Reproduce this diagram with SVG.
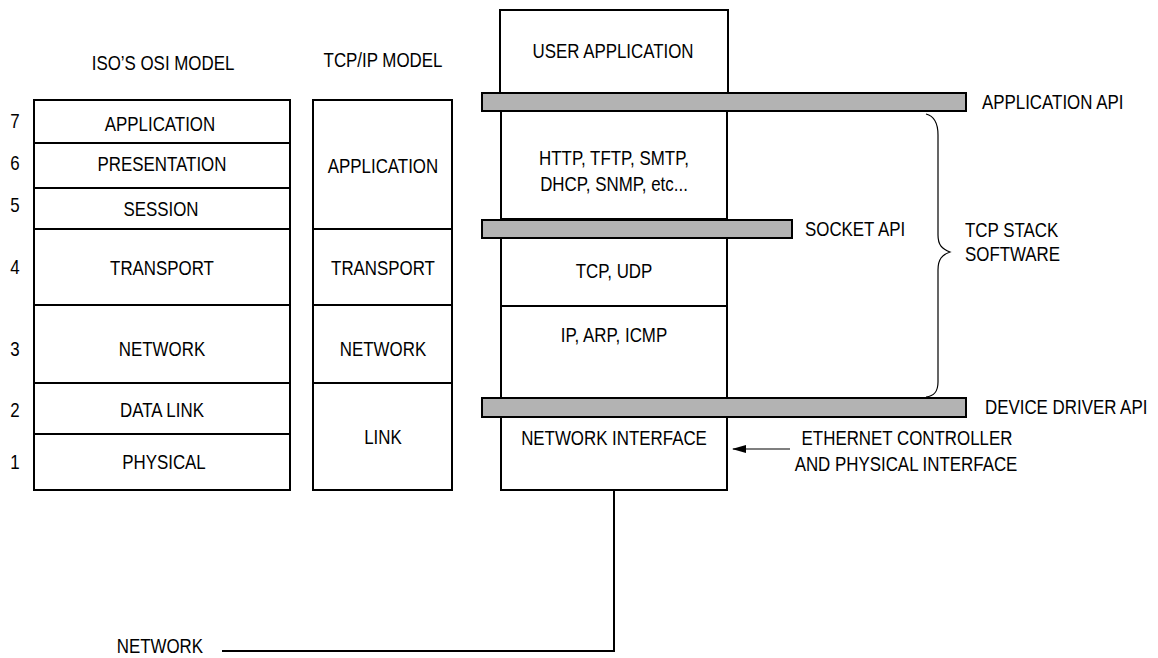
<svg xmlns="http://www.w3.org/2000/svg" width="1158" height="658" viewBox="0 0 1158 658">
<defs>
<style>
text{font-family:"Liberation Sans",Arial,sans-serif;font-size:20px;fill:#000}
.c{text-anchor:middle}
.e{text-anchor:end}
.box{fill:#fff;stroke:#000;stroke-width:2}
.bar{fill:#b3b3b3;stroke:#000;stroke-width:2}
.ln{fill:none;stroke:#000;stroke-width:2}
.thin{fill:none;stroke:#000;stroke-width:1.2}
</style>
<marker id="ah" markerWidth="14" markerHeight="10" refX="13" refY="5" orient="auto" markerUnits="userSpaceOnUse">
<path d="M0,1 L14,5 L0,9 Z" fill="#000"/>
</marker>
</defs>
<rect width="1158" height="658" fill="#fff"/>

<g id="headers">
<text class="c" transform="translate(163,70) scale(.845,1)">ISO’S OSI MODEL</text>
<text class="c" transform="translate(383,67) scale(.845,1)">TCP/IP MODEL</text>
</g>

<g id="osi">
<rect class="box" x="34" y="100" width="256" height="390"/>
<line class="ln" x1="34" y1="143" x2="290" y2="143"/>
<line class="ln" x1="34" y1="188" x2="290" y2="188"/>
<line class="ln" x1="34" y1="229" x2="290" y2="229"/>
<line class="ln" x1="34" y1="305" x2="290" y2="305"/>
<line class="ln" x1="34" y1="383" x2="290" y2="383"/>
<line class="ln" x1="34" y1="434" x2="290" y2="434"/>
<text class="c" transform="translate(160,131) scale(.845,1)">APPLICATION</text>
<text class="c" transform="translate(162,171) scale(.845,1)">PRESENTATION</text>
<text class="c" transform="translate(161,216) scale(.845,1)">SESSION</text>
<text class="c" transform="translate(162,275) scale(.845,1)">TRANSPORT</text>
<text class="c" transform="translate(162,356) scale(.845,1)">NETWORK</text>
<text class="c" transform="translate(162,417) scale(.845,1)">DATA LINK</text>
<text class="c" transform="translate(164,469) scale(.845,1)">PHYSICAL</text>
<text class="c" transform="translate(15,128) scale(.845,1)">7</text>
<text class="c" transform="translate(15,170) scale(.845,1)">6</text>
<text class="c" transform="translate(15,212) scale(.845,1)">5</text>
<text class="c" transform="translate(15,274) scale(.845,1)">4</text>
<text class="c" transform="translate(15,356) scale(.845,1)">3</text>
<text class="c" transform="translate(15,417) scale(.845,1)">2</text>
<text class="c" transform="translate(15,469) scale(.845,1)">1</text>
</g>

<g id="tcpip">
<rect class="box" x="313" y="100" width="139" height="390"/>
<line class="ln" x1="313" y1="229" x2="452" y2="229"/>
<line class="ln" x1="313" y1="305" x2="452" y2="305"/>
<line class="ln" x1="313" y1="383" x2="452" y2="383"/>
<text class="c" transform="translate(383,173) scale(.845,1)">APPLICATION</text>
<text class="c" transform="translate(383,275) scale(.845,1)">TRANSPORT</text>
<text class="c" transform="translate(383,356) scale(.845,1)">NETWORK</text>
<text class="c" transform="translate(383,444) scale(.845,1)">LINK</text>
</g>

<g id="user-application">
<rect class="box" x="500" y="10" width="228" height="83"/>
<text class="c" transform="translate(613,58) scale(.845,1)">USER APPLICATION</text>
</g>

<g id="protocols">
<rect class="box" x="501" y="111" width="226" height="108"/>
<text class="c" transform="translate(614,165) scale(.845,1)">HTTP, TFTP, SMTP,</text>
<text class="c" transform="translate(614,191) scale(.845,1)">DHCP, SNMP, etc...</text>
</g>

<g id="tcp-udp">
<rect class="box" x="501" y="238" width="226" height="68"/>
<text class="c" transform="translate(614,278) scale(.845,1)">TCP, UDP</text>
</g>

<g id="ip-arp-icmp">
<rect class="box" x="501" y="306" width="226" height="92"/>
<text class="c" transform="translate(614,342) scale(.845,1)">IP, ARP, ICMP</text>
</g>

<g id="network-interface">
<rect class="box" x="501" y="417" width="226" height="73"/>
<text class="c" transform="translate(614,445) scale(.845,1)">NETWORK INTERFACE</text>
</g>

<g id="application-api">
<rect class="bar" x="482" y="93" width="484" height="18"/>
<text transform="translate(982,109) scale(.845,1)">APPLICATION API</text>
</g>

<g id="socket-api">
<rect class="bar" x="482" y="220" width="310" height="18"/>
<text transform="translate(805,236) scale(.845,1)">SOCKET API</text>
</g>

<g id="device-driver-api">
<rect class="bar" x="482" y="398" width="484" height="19"/>
<text transform="translate(985,414) scale(.845,1)">DEVICE DRIVER API</text>
</g>

<g id="tcp-stack">
<path class="thin" d="M926,114 C934,116 938,122 938,135 L938,235 C938,245 942,249 950,252 C942,255 938,259 938,270 L938,382 C938,392 934,396 926,397"/>
<text transform="translate(965,237) scale(.845,1)">TCP STACK</text>
<text transform="translate(965,261) scale(.845,1)">SOFTWARE</text>
</g>

<g id="ethernet-label">
<text class="c" transform="translate(907,445) scale(.845,1)">ETHERNET CONTROLLER</text>
<text class="c" transform="translate(906,471) scale(.845,1)">AND PHYSICAL INTERFACE</text>
</g>

<g id="network-label">
<text class="e" transform="translate(203,653) scale(.845,1)">NETWORK</text>
</g>

<g id="connectors">
<line class="thin" x1="790" y1="449" x2="733" y2="449" marker-end="url(#ah)"/>
<path class="ln" d="M614,490 L614,651 L222,651"/>
</g>
</svg>
